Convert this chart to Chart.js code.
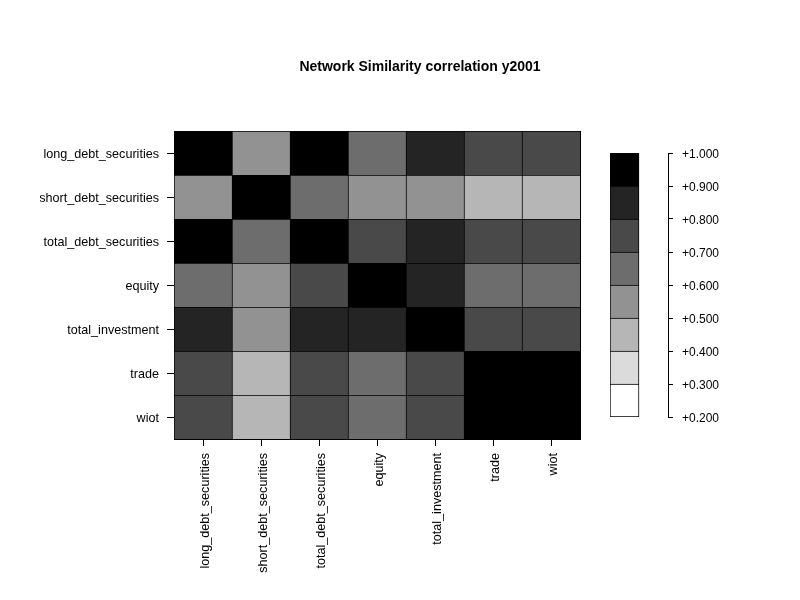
<!DOCTYPE html>
<html>
<head>
<meta charset="utf-8">
<script src="https://cdn.jsdelivr.net/npm/chart.js@4.4.1/dist/chart.umd.min.js"></script>
<style>
  body { margin: 0; background: #fff; }
  #wrap { position: relative; width: 800px; height: 600px; }
  #wrap canvas { position: absolute; left: 0; top: 0; }
</style>
</head>
<body>
<div id="wrap">
  <canvas id="heatChart" width="800" height="600"></canvas>
  <canvas id="scaleChart" width="800" height="600"></canvas>
</div>
<script>
const networks = ['long_debt_securities', 'short_debt_securities', 'total_debt_securities',
                  'equity', 'total_investment', 'trade', 'wiot'];

// correlation rows, same order as networks
const longDebt   = [1.00, 0.56, 0.98, 0.66, 0.86, 0.74, 0.73];
const shortDebt  = [0.56, 1.00, 0.63, 0.57, 0.55, 0.46, 0.45];
const totalDebt  = [0.98, 0.63, 1.00, 0.72, 0.87, 0.75, 0.74];
const equity     = [0.66, 0.57, 0.72, 1.00, 0.83, 0.64, 0.63];
const totalInv   = [0.86, 0.55, 0.87, 0.83, 1.00, 0.76, 0.75];
const trade      = [0.74, 0.46, 0.75, 0.64, 0.76, 1.00, 0.99];
const wiot       = [0.73, 0.45, 0.74, 0.63, 0.75, 0.99, 1.00];
const corrRows = [longDebt, shortDebt, totalDebt, equity, totalInv, trade, wiot];

// colour key
const breaks = [0.2, 0.3, 0.4, 0.5, 0.6, 0.7, 0.8, 0.9, 1.0];
const binGrays = [255, 219, 182, 146, 109, 73, 36, 0];

Chart.defaults.font.family = "Arial, 'Liberation Sans', sans-serif";
Chart.defaults.font.size = 12;
Chart.defaults.color = '#000';

function grayFor(v) {
    let idx = breaks.findIndex((b, i) => i < breaks.length - 1 && v >= b && v < breaks[i + 1]);
    if (idx < 0) idx = v >= breaks[breaks.length - 1] ? binGrays.length - 1 : 0;
    const g = binGrays[idx];
    return `rgb(${g},${g},${g})`;
}

const heatDatasets = corrRows.map((row, i) => ({
    data: row.map(() => [i, i + 1]),
    backgroundColor: row.map(grayFor),
    borderColor: '#000',
    borderWidth: { top: 1, left: 1, right: 0, bottom: 0 },
    borderSkipped: false,
    grouped: false,
    barPercentage: 1,
    categoryPercentage: 1
}));

new Chart(document.getElementById('heatChart'), {
    type: 'bar',
    data: { labels: networks, datasets: heatDatasets },
    options: {
        responsive: false,
        animation: false,
        devicePixelRatio: 1,
        layout: { padding: { left: 40, right: 0, top: 0, bottom: 0 } },
        plugins: {
            legend: { display: false },
            tooltip: { enabled: false },
            title: {
                display: true,
                text: 'Network Similarity correlation y2001',
                color: '#000',
                font: { size: 14, weight: 'bold' },
                padding: { top: 59, bottom: 55.2 }
            }
        },
        scales: {
            x: {
                offset: true,
                grid: { offset: false, drawOnChartArea: false, drawTicks: true, tickLength: 7, color: '#000' },
                border: { display: true, color: '#000' },
                ticks: { autoSkip: false, maxRotation: 90, minRotation: 90, padding: 7, labelOffset: 3, color: '#000', font: { size: 12.6 } },
                afterFit: (scale) => { scale.height = 161; }
            },
            y: {
                type: 'linear',
                reverse: true,
                min: 0,
                max: networks.length,
                grid: { drawOnChartArea: false, drawTicks: true, tickLength: 7, color: '#000' },
                border: { display: true, color: '#000' },
                ticks: {
                    padding: 8,
                    labelOffset: 2,
                    color: '#000',
                    font: { size: 12.6 },
                    callback: (value, index) => networks[index]
                },
                afterBuildTicks: (scale) => {
                    scale.ticks = networks.map((_, i) => ({ value: i + 0.5 }));
                },
                afterFit: (scale) => { scale.width = 134; }
            },
            yr: {
                type: 'linear',
                position: 'right',
                grid: { display: false },
                ticks: { display: false },
                border: { display: true, color: '#000' },
                afterFit: (scale) => { scale.width = 220; }
            }
        }
    }
});

const keyDatasets = binGrays.map((g, i) => ({
    data: [[breaks[i], breaks[i + 1]], null],
    backgroundColor: `rgb(${g},${g},${g})`,
    borderColor: '#000',
    borderWidth: { top: 1, left: 1, right: 1, bottom: i === 0 ? 1 : 0 },
    borderSkipped: false,
    grouped: false,
    barPercentage: 1,
    categoryPercentage: 1
}));

new Chart(document.getElementById('scaleChart'), {
    type: 'bar',
    data: { labels: ['', ''], datasets: keyDatasets },
    options: {
        responsive: false,
        animation: false,
        devicePixelRatio: 1,
        layout: { padding: { left: 610, right: 0, top: 153, bottom: 183 } },
        plugins: { legend: { display: false }, tooltip: { enabled: false } },
        scales: {
            x: { display: false },
            y: {
                type: 'linear',
                position: 'right',
                min: breaks[0],
                max: breaks[breaks.length - 1],
                grid: { drawOnChartArea: false, drawTicks: true, tickLength: 5, color: '#000' },
                border: { display: true, color: '#000' },
                ticks: {
                    padding: 9,
                    labelOffset: 2,
                    color: '#000',
                    callback: (value) => '+' + Number(value).toFixed(3)
                },
                afterBuildTicks: (scale) => {
                    scale.ticks = breaks.map(b => ({ value: b }));
                },
                afterFit: (scale) => { scale.width = 132; }
            }
        }
    }
});
</script>
</body>
</html>
